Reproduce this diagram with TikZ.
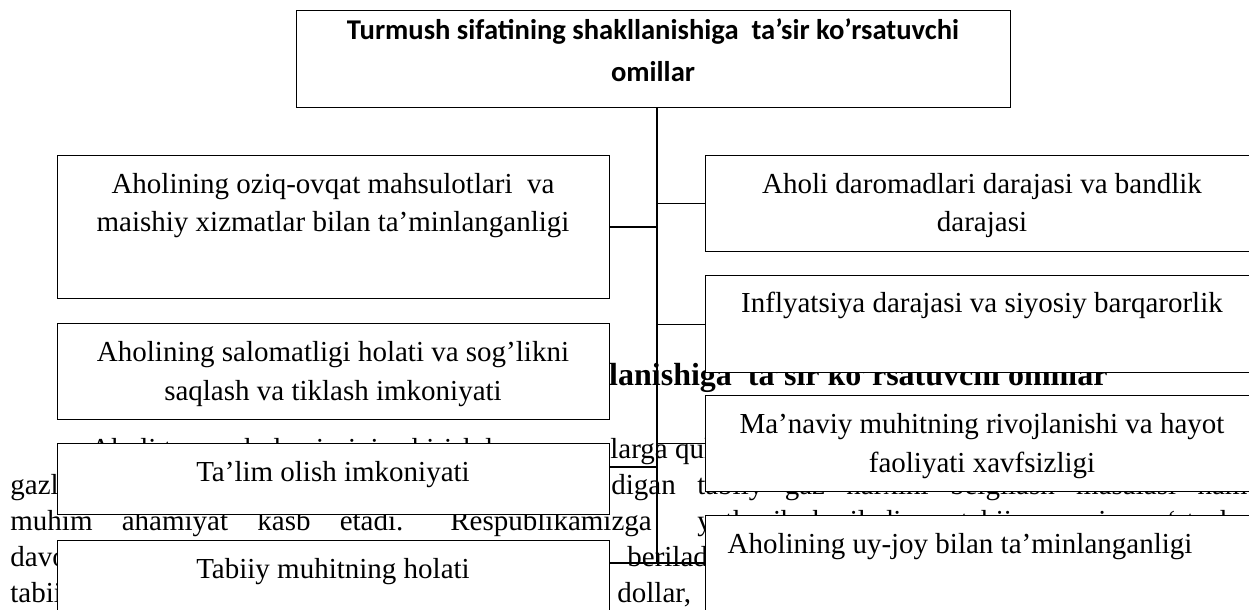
\documentclass[tikz,border=0pt]{standalone}
\usepackage{fontspec}
\setmainfont{Liberation Serif}
\newfontfamily\calibrifont{Carlito}
\tikzset{
  box/.style={draw, fill=white, line width=0.65pt, inner sep=0pt, anchor=north west},
  txt/.style={font=\fontsize{14.5}{19.5}\selectfont, inner sep=0pt, anchor=base},
  bgtext/.style={font=\fontsize{14.5}{19.5}\selectfont, inner sep=0pt, anchor=base west},
  bghead/.style={font=\bfseries\fontsize{16}{19.5}\selectfont, inner sep=0pt, anchor=base east},
  titletext/.style={font=\calibrifont\bfseries\fontsize{14.3}{21}\selectfont, inner sep=0pt, anchor=base},
  conn/.style={line width=0.65pt},
}
\begin{document}
\begin{tikzpicture}[x=0.5pt,y=-0.5pt]
\useasboundingbox (0,0) rectangle (1249,610);
\clip (0,0) rectangle (1249,610);
% background page text (partly covered by the boxes)
\node[bghead] (ha) at (1108,385) {lanishiga{ } ta’sir ko’rsatuvchi omillar};
\node[bgtext] (b1) at (90,458) {Aholi turmush darajasini oshirishda};
\node[bgtext] (b2) at (610,458) {larga qulay};
\node[bgtext] (c1) at (10,494) {gazlashtirish};
\node[bgtext] (c2) at (611,494) {\makebox[318pt][s]{digan tabiiy gaz narxini belgilash masalasi ham}};
\node[bgtext] (d1) at (10,530) {\makebox[196.5pt][s]{muhim ahamiyat kasb etadi.}};
\node[bgtext] (d2) at (450,530) {Respublikamizga};
\node[bgtext] (d3) at (697,530) {\makebox[275pt][s]{yetkazib beriladigan tabiiy gazning o‘rtacha}};
\node[bgtext] (e1) at (10,566) {davomida};
\node[bgtext] (e2) at (627,566) {beriladigan};
\node[bgtext] (f1) at (10,602) {tabiiy};
\node[bgtext] (f2) at (617,602) {dollar,};
% boxes
\node[box, minimum width=357pt, minimum height=48.5pt] (top) at (296,10) {};
\node[box, minimum width=276pt, minimum height=71.5pt] (L1) at (57,155) {};
\node[box, minimum width=276pt, minimum height=48pt] (L2) at (57,323) {};
\node[box, minimum width=276pt, minimum height=35.5pt] (L3) at (57,443) {};
\node[box, minimum width=276pt, minimum height=50pt] (L4) at (57,540) {};
\node[box, minimum width=277pt, minimum height=48pt] (R1) at (705,155) {};
\node[box, minimum width=277pt, minimum height=48.5pt] (R2) at (705,275) {};
\node[box, minimum width=277pt, minimum height=48pt] (R3) at (705,395) {};
\node[box, minimum width=277pt, minimum height=62.5pt] (R4) at (705,515) {};
% box texts
\node[titletext] (tt1) at (653,40) {Turmush sifatining shakllanishiga{ } ta’sir ko’rsatuvchi};
\node[titletext] (tt2) at (653,82) {omillar};
\node[txt] (l1a) at (333,193) {Aholining oziq-ovqat mahsulotlari{ } va};
\node[txt] (l1b) at (333,232) {maishiy xizmatlar bilan ta’minlanganligi};
\node[txt] (l2a) at (333,361) {Aholining salomatligi holati va sog’likni};
\node[txt] (l2b) at (333,400) {saqlash va tiklash imkoniyati};
\node[txt] (l3a) at (333,481) {Ta’lim olish imkoniyati};
\node[txt] (l4a) at (333,578) {Tabiiy muhitning holati};
\node[txt] (r1a) at (982,193) {Aholi daromadlari darajasi va bandlik};
\node[txt] (r1b) at (982,232) {darajasi};
\node[txt] (r2a) at (982,313) {Inflyatsiya darajasi va siyosiy barqarorlik};
\node[txt] (r3a) at (982,433) {Ma’naviy muhitning rivojlanishi va hayot};
\node[txt] (r3b) at (982,472) {faoliyati xavfsizligi};
\node[txt] (r4a) at (960,553) {Aholining uy-joy bilan ta’minlanganligi};
% connectors
\coordinate (tr) at (657,0);
\draw[conn] (top.south -| tr) -- (tr |- 0,563);
\draw[conn] (L1.east) -- (L1.east -| tr);
\draw[conn] (R1.west) -- (R1.west -| tr);
\draw[conn] (R2.west) -- (R2.west -| tr);
\draw[conn] (R3.west) -- (R3.west -| tr);
\draw[conn] (L3.east |- 0,467) -- (tr |- 0,467);
\draw[conn] (L4.east |- 0,563) -- (R4.west |- 0,563);
\end{tikzpicture}
\end{document}
